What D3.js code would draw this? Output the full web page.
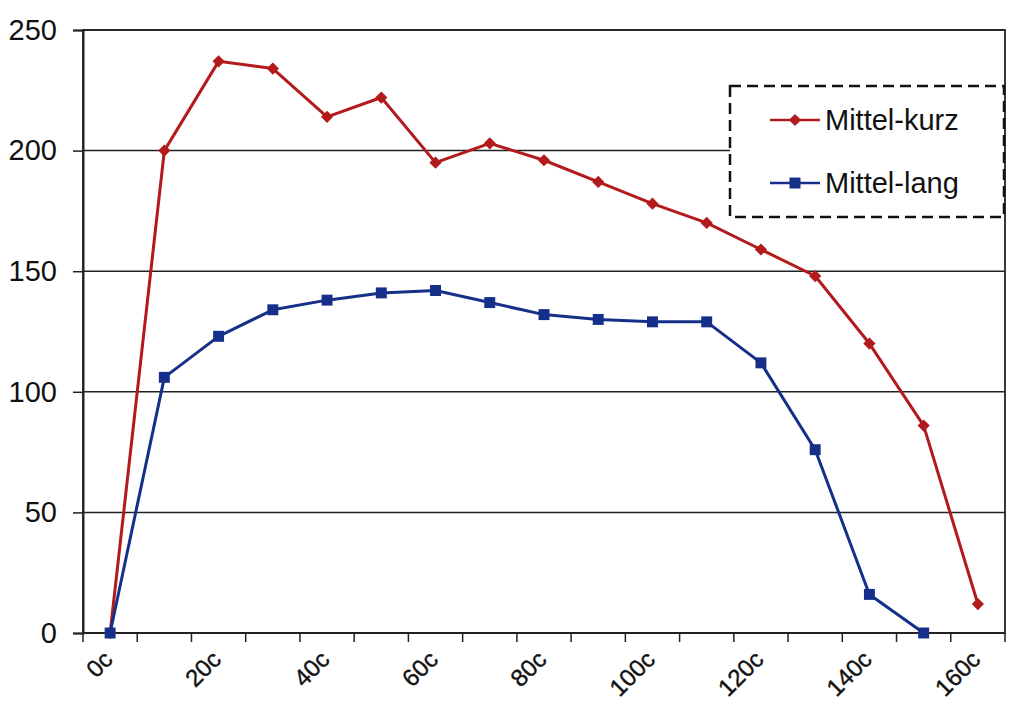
<!DOCTYPE html>
<html>
<head>
<meta charset="utf-8">
<script src="https://cdn.jsdelivr.net/npm/d3@7"></script>
<style>
  body { margin: 0; background: #fff; }
  text { font-family: "Liberation Sans", Arial, sans-serif; fill: #111; }
</style>
</head>
<body>
<div id="wrapper"></div>
<script>
// data
const categories = ['0c', '10c', '20c', '30c', '40c', '50c', '60c', '70c', '80c',
  '90c', '100c', '110c', '120c', '130c', '140c', '150c', '160c']
const mittelKurz = [0, 200, 237, 234, 214, 222, 195, 203, 196, 187, 178, 170, 159, 148, 120, 86, 12]
const mittelLang = [0, 106, 123, 134, 138, 141, 142, 137, 132, 130, 129, 129, 112, 76, 16, 0, null]
const yTicks = [0, 50, 100, 150, 200, 250]
const xLabels = ['0c', '20c', '40c', '60c', '80c', '100c', '120c', '140c', '160c']

const series = [
  { name: 'Mittel-kurz', values: mittelKurz, color: '#b31a1c', marker: 'diamond' },
  { name: 'Mittel-lang', values: mittelLang, color: '#16308a', marker: 'square' }
]

function drawChart() {
  let dimensions = {
    width: 1024,
    height: 724,
    margin: { top: 30, right: 19, bottom: 91, left: 83 }
  }
  dimensions.boundedWidth = dimensions.width - dimensions.margin.left - dimensions.margin.right
  dimensions.boundedHeight = dimensions.height - dimensions.margin.top - dimensions.margin.bottom

  const wrapper = d3.select('#wrapper')
    .append('svg')
      .attr('width', dimensions.width)
      .attr('height', dimensions.height)

  const bounds = wrapper.append('g')
    .attr('transform', `translate(${dimensions.margin.left}, ${dimensions.margin.top})`)

  // scales
  const xScale = d3.scaleBand()
    .domain(categories)
    .range([0, dimensions.boundedWidth])

  const yScale = d3.scaleLinear()
    .domain([0, 250])
    .range([dimensions.boundedHeight, 0])

  const xCenter = c => xScale(c) + xScale.bandwidth() / 2

  // gridlines
  bounds.append('g')
    .selectAll('line')
    .data(yTicks)
    .enter().append('line')
      .attr('x1', 0)
      .attr('x2', dimensions.boundedWidth)
      .attr('y1', d => yScale(d))
      .attr('y2', d => yScale(d))
      .attr('stroke', '#222')
      .attr('stroke-width', 1.5)

  // plot frame
  bounds.append('rect')
    .attr('width', dimensions.boundedWidth)
    .attr('height', dimensions.boundedHeight)
    .attr('fill', 'none')
    .attr('stroke', '#222')
    .attr('stroke-width', 1.8)

  // y axis
  const yAxis = bounds.append('g')
    .call(d3.axisLeft(yScale).tickValues(yTicks).tickSize(10).tickPadding(16))
  yAxis.select('.domain').attr('stroke', '#222').attr('stroke-width', 2)
  yAxis.selectAll('.tick line').attr('stroke', '#222').attr('stroke-width', 1.5)
  yAxis.selectAll('.tick text')
    .style('font-size', '29px')
    .attr('fill', '#111')

  // x axis: ticks on band edges, labels every other category
  const xAxisGroup = bounds.append('g')
    .attr('transform', `translate(0, ${dimensions.boundedHeight})`)

  xAxisGroup.append('line')
    .attr('x1', 0)
    .attr('x2', dimensions.boundedWidth)
    .attr('stroke', '#222')
    .attr('stroke-width', 2)

  const edges = categories.map(c => xScale(c)).concat([dimensions.boundedWidth])
  xAxisGroup.selectAll('.xtick')
    .data(edges)
    .enter().append('line')
      .attr('class', 'xtick')
      .attr('x1', d => d)
      .attr('x2', d => d)
      .attr('y1', 0)
      .attr('y2', 9)
      .attr('stroke', '#222')
      .attr('stroke-width', 1.5)

  xAxisGroup.selectAll('.xlabel')
    .data(xLabels)
    .enter().append('text')
      .attr('class', 'xlabel')
      .attr('transform', d => `translate(${xCenter(d) - 2}, 22) rotate(-45)`)
      .attr('text-anchor', 'end')
      .attr('dy', '0.35em')
      .style('font-size', '24px')
      .style('stroke', '#111')
      .style('stroke-width', 0.4)
      .text(d => d)

  // lines and markers
  const lineGenerator = d3.line()
    .defined(d => d.v !== null)
    .x(d => xCenter(d.c))
    .y(d => yScale(d.v))

  const symbolFor = m => m === 'diamond'
    ? d3.symbol().type(d3.symbolDiamond2).size(95)
    : d3.symbol().type(d3.symbolSquare).size(120)

  series.forEach(s => {
    const pts = categories.map((c, i) => ({ c: c, v: s.values[i] }))
    bounds.append('path')
      .datum(pts)
      .attr('d', lineGenerator)
      .attr('fill', 'none')
      .attr('stroke', s.color)
      .attr('stroke-width', 3)
      .attr('stroke-linejoin', 'round')

    bounds.append('g')
      .selectAll('path')
      .data(pts.filter(d => d.v !== null))
      .enter().append('path')
        .attr('transform', d => `translate(${xCenter(d.c)}, ${yScale(d.v)})`)
        .attr('d', symbolFor(s.marker))
        .attr('fill', s.color)
  })

  // legend
  const legend = wrapper.append('g')
    .attr('transform', 'translate(730, 86)')

  legend.append('rect')
    .attr('width', 274)
    .attr('height', 131)
    .attr('fill', '#fff')
    .attr('stroke', '#111')
    .attr('stroke-width', 2.5)
    .attr('stroke-dasharray', '11 6')

  series.forEach((s, i) => {
    const row = legend.append('g')
      .attr('transform', `translate(0, ${34 + i * 63})`)
    row.append('line')
      .attr('x1', 40)
      .attr('x2', 90)
      .attr('stroke', s.color)
      .attr('stroke-width', 2.6)
    row.append('path')
      .attr('transform', 'translate(65, 0)')
      .attr('d', symbolFor(s.marker))
      .attr('fill', s.color)
    row.append('text')
      .attr('x', 95)
      .attr('dy', '0.36em')
      .style('font-size', '29px')
      .text(s.name)
  })
}

drawChart()
</script>
</body>
</html>
